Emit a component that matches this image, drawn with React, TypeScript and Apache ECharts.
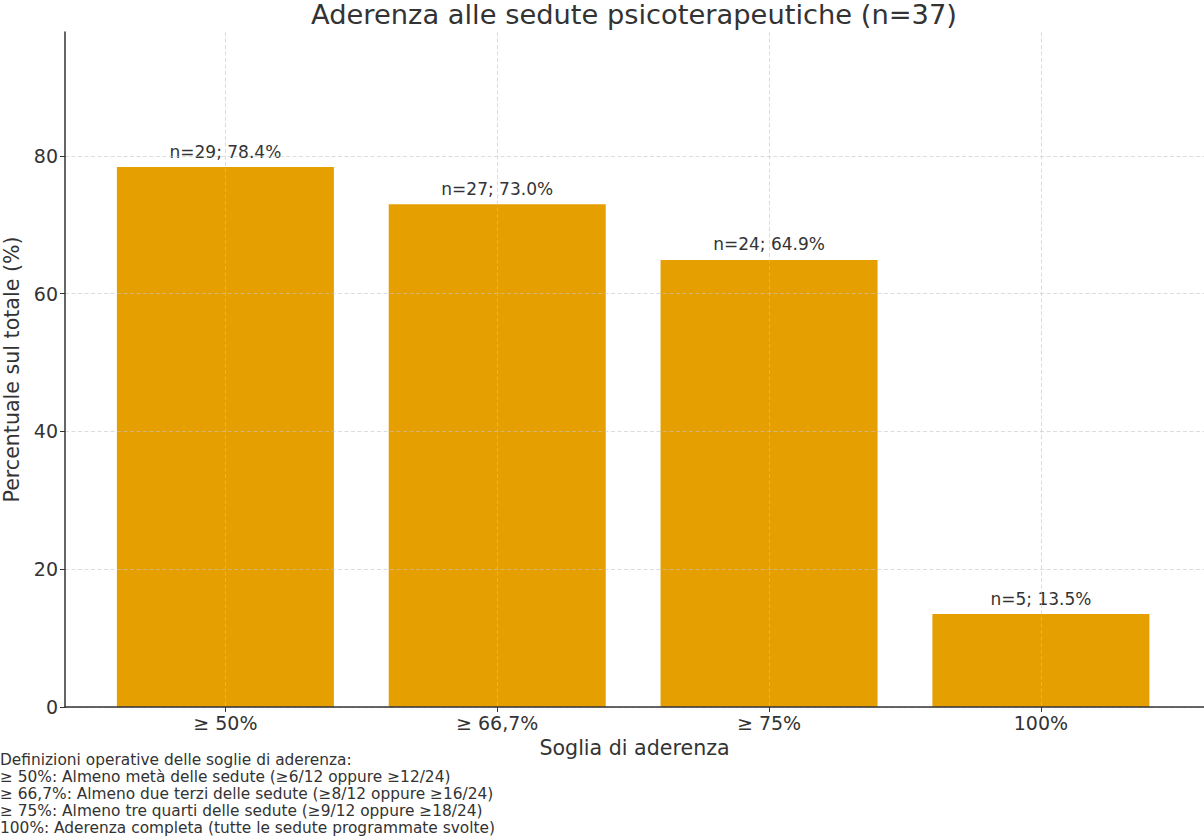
import React, { useEffect, useRef } from "react";
import * as echarts from "echarts";

const TITLE = "Aderenza alle sedute psicoterapeutiche (n=37)";
const categories = ["≥ 50%", "≥ 66,7%", "≥ 75%", "100%"];
const counts = [29, 27, 24, 5];
const percents = [78.4, 73.0, 64.9, 13.5];
const yTicks = [0, 20, 40, 60, 80];
const footnoteLines = [
  "Definizioni operative delle soglie di aderenza:",
  "≥ 50%: Almeno metà delle sedute (≥6/12 oppure ≥12/24)",
  "≥ 66,7%: Almeno due terzi delle sedute (≥8/12 oppure ≥16/24)",
  "≥ 75%: Almeno tre quarti delle sedute (≥9/12 oppure ≥18/24)",
  "100%: Aderenza completa (tutte le sedute programmate svolte)",
];

const FONT = "'DejaVu Sans', sans-serif";
const TEXT = "#333333";

export default function App() {
  const ref = useRef<HTMLDivElement>(null);
  useEffect(() => {
    if (!ref.current) return;
    const chart = echarts.init(ref.current, undefined, { renderer: "svg" });
    const idx = categories.map((_, i) => i);
    const gridLine = {
      show: true,
      lineStyle: { color: "#c4c4c4", width: 0.8, type: [4, 2.5] as any, opacity: 0.75 },
    };
    chart.setOption({
      animation: false,
      backgroundColor: "#ffffff",
      textStyle: { fontFamily: FONT, color: TEXT },
      grid: { left: 65, right: 0, top: 32, bottom: 130, containLabel: false, outerBoundsMode: "none" },
      xAxis: {
        type: "value",
        min: -0.59,
        max: 3.6,
        z: 5,
        name: "Soglia di aderenza",
        nameLocation: "middle",
        nameGap: 30,
        nameTextStyle: { fontSize: 20.6, color: TEXT, fontFamily: FONT },
        axisLine: { show: true, onZero: false, lineStyle: { color: "#333", width: 1.5 } },
        axisTick: { show: true, length: 5, customValues: idx, lineStyle: { color: "#333", width: 1 } },
        axisLabel: {
          show: true,
          customValues: idx,
          fontSize: 19,
          color: TEXT,
          fontFamily: FONT,
          margin: 6,
          formatter: (v: number) => categories[Math.round(v)] ?? "",
        },
        splitLine: gridLine,
      },
      yAxis: {
        type: "value",
        min: 0,
        max: 98,
        z: 5,
        name: "Percentuale sul totale (%)",
        nameLocation: "middle",
        nameGap: 41,
        nameTextStyle: { fontSize: 20.6, color: TEXT, fontFamily: FONT },
        axisLine: { show: true, onZero: false, lineStyle: { color: "#333", width: 1.5 } },
        axisTick: { show: true, length: 5, customValues: yTicks, lineStyle: { color: "#333", width: 1 } },
        axisLabel: { show: true, customValues: yTicks, fontSize: 19, color: TEXT, fontFamily: FONT, margin: 7 },
        splitLine: gridLine,
      },
      series: [
        {
          type: "bar",
          z: 2,
          barWidth: 217,
          data: percents.map((p, i) => [i, p]),
          itemStyle: { color: "#E69F00" },
          label: {
            show: true,
            position: "top",
            distance: 7,
            fontSize: 17,
            color: TEXT,
            fontFamily: FONT,
            formatter: (p: any) => `n=${counts[p.dataIndex]}; ${percents[p.dataIndex].toFixed(1)}%`,
          },
        },
      ],
      graphic: [
        {
          type: "text",
          x: 634,
          y: 14,
          style: {
            text: TITLE,
            fontSize: 27.3,
            fontFamily: FONT,
            fill: TEXT,
            textAlign: "center",
            textVerticalAlign: "middle",
          },
        },
        ...footnoteLines.map((line, i) => ({
          type: "text",
          left: 0,
          top: 752 + i * 17,
          style: { text: line, fontSize: 15.4, fontFamily: FONT, fill: TEXT },
        })),
      ],
    });
    return () => chart.dispose();
  }, []);
  return (
    <div
      ref={ref}
      style={{ position: "fixed", left: 0, top: 0, width: 1204, height: 837, background: "#fff" }}
    />
  );
}
